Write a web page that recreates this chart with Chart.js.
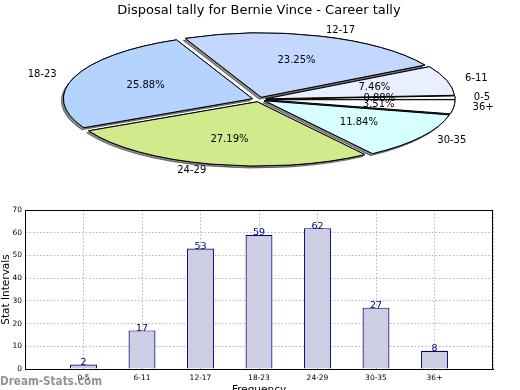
<!DOCTYPE html>
<html>
<head>
<meta charset="utf-8">
<script src="https://cdn.jsdelivr.net/npm/chart.js@4"></script>
<style>
  html, body { margin: 0; padding: 0; background: #fff; width: 520px; height: 390px; overflow: hidden; }
  #pie { position: absolute; left: 0; top: 0; }
  #bar { position: absolute; left: 0; top: 200px; }
</style>
</head>
<body>
<canvas id="pie" width="520" height="200"></canvas>
<canvas id="bar" width="520" height="200"></canvas>
<script>
// ---- data ----
const titleText = 'Disposal tally for Bernie Vince - Career tally';
const categories = ['0-5', '6-11', '12-17', '18-23', '24-29', '30-35', '36+'];
const values = [2, 17, 53, 59, 62, 27, 8];
const yTicks = [0, 10, 20, 30, 40, 50, 60, 70];
const pieColors = ['#ffffff', '#e8f0ff', '#c4d8ff', '#b4d4ff', '#d0ea8c', '#d8ffff', '#ffffff'];
const xTitle = 'Frequency';
const yTitle = 'Stat Intervals';
const watermark = 'Dream-Stats.com';

const FONT = "'DejaVu Sans', sans-serif";
const SY = -0.34;        // vertical squash (negative = counter-clockwise)
const R = 189;           // pie radius
const EXPLODE = 7;       // px translation of each slice
const total = values.reduce((a, b) => a + b, 0);

// ---- pie: ellipse + explode plugin ----
function drawExploded(ctx, a) {
  const mid = (a.startAngle + a.endAngle) / 2;
  ctx.save();
  ctx.translate(Math.cos(mid) * EXPLODE, Math.sin(mid) * EXPLODE);
  a.draw(ctx);
  ctx.restore();
}
const ellipsePlugin = {
  id: 'ellipse',
  beforeDatasetsDraw(chart) {
    const ctx = chart.ctx;
    const arcs = chart.getDatasetMeta(0).data;
    const cx = arcs[0].x, cy = arcs[0].y;
    ctx.save();
    ctx.translate(cx, cy);
    ctx.scale(1, SY);
    ctx.translate(-cx, -cy);
    const orig = CanvasRenderingContext2D.prototype.stroke;
    ctx.stroke = function (...a) {
      this.save();
      this.setTransform(1, 0, 0, 1, 0, 0);
      orig.apply(this, a);
      this.restore();
    };
    // shadow pass
    ctx.save();
    ctx.shadowColor = 'rgba(0,0,0,0.45)';
    ctx.shadowOffsetX = -2;
    ctx.shadowOffsetY = 2;
    ctx.shadowBlur = 0;
    arcs.forEach(a => drawExploded(ctx, a));
    ctx.restore();
    // normal pass
    arcs.forEach(a => drawExploded(ctx, a));
    delete ctx.stroke;
    ctx.restore();
  },
  beforeDatasetDraw() { return false; },
  afterDraw(chart) {
    const ctx = chart.ctx;
    const arcs = chart.getDatasetMeta(0).data;
    ctx.save();
    ctx.fillStyle = '#000';
    ctx.font = '10px ' + FONT;
    ctx.textBaseline = 'middle';
    arcs.forEach((a, i) => {
      const mid = (a.startAngle + a.endAngle) / 2;
      const dx = Math.cos(mid), dy = Math.sin(mid);
      const lr = EXPLODE + 1.1 * R;
      ctx.textAlign = dx > 0 ? 'left' : 'right';
      ctx.fillText(categories[i], a.x + lr * dx, a.y + SY * lr * dy);
      const pr = EXPLODE + 0.6 * R;
      ctx.textAlign = 'center';
      ctx.fillText((values[i] / total * 100).toFixed(2) + '%', a.x + pr * dx, a.y + SY * pr * dy);
    });
    ctx.restore();
  }
};

new Chart(document.getElementById('pie'), {
  type: 'pie',
  data: {
    labels: categories,
    datasets: [{
      data: values,
      backgroundColor: pieColors,
      borderColor: '#000',
      borderWidth: 1,
      borderJoinStyle: 'miter',
      offset: 0,
      hoverOffset: 0,
      clip: false
    }]
  },
  options: {
    responsive: false,
    animation: false,
    events: [],
    rotation: 90,
    radius: R,
    layout: { padding: { top: 0, bottom: 19.6, left: 0, right: 2 } },
    plugins: {
      legend: { display: false },
      tooltip: { enabled: false },
      title: {
        display: true,
        text: titleText,
        color: '#000',
        font: { family: FONT, size: 13, weight: 'normal' },
        padding: { top: 3, bottom: 0 }
      }
    }
  },
  plugins: [ellipsePlugin]
});

// ---- bar chart ----
const barExtras = {
  id: 'barExtras',
  afterDatasetsDraw(chart) {
    const ctx = chart.ctx;
    const bars = chart.getDatasetMeta(0).data;
    ctx.save();
    ctx.fillStyle = '#000080';
    ctx.font = '9.5px ' + FONT;
    ctx.textAlign = 'center';
    ctx.textBaseline = 'alphabetic';
    bars.forEach((b, i) => ctx.fillText(String(values[i]), b.x, b.y + 0.5));
    ctx.restore();
  },
  afterDraw(chart) {
    const ctx = chart.ctx;
    const a = chart.chartArea;
    ctx.save();
    ctx.strokeStyle = '#000';
    ctx.lineWidth = 1;
    ctx.strokeRect(Math.round(a.left) + 0.5, Math.round(a.top) + 0.5, Math.round(a.right - a.left) - 1, Math.round(a.bottom - a.top));
    // watermark
    ctx.font = "bold 13px 'DejaVu Sans Condensed', 'DejaVu Sans', sans-serif";
    const w = ctx.measureText(watermark).width;
    ctx.translate(0, 185);
    ctx.scale(102 / w, 1);
    ctx.fillStyle = 'rgba(120,120,120,0.8)';
    ctx.textBaseline = 'alphabetic';
    ctx.textAlign = 'left';
    ctx.fillText(watermark, 0, 0);
    ctx.restore();
  }
};

new Chart(document.getElementById('bar'), {
  type: 'bar',
  data: {
    datasets: [{
      data: categories.map((c, i) => ({ x: i, y: values[i] })),
      backgroundColor: '#cdcde4',
      borderColor: '#000080',
      borderWidth: 1.2,
      barPercentage: 0.46,
      categoryPercentage: 1
    }]
  },
  options: {
    responsive: false,
    animation: false,
    events: [],
    layout: { padding: { top: 10, right: 27, left: 0, bottom: 0 } },
    plugins: { legend: { display: false }, tooltip: { enabled: false } },
    scales: {
      x: {
        type: 'linear',
        min: -1, max: 7,
        offset: false,
        ticks: {
          stepSize: 1, autoSkip: false, maxRotation: 0,
          callback: v => categories[v] !== undefined ? categories[v] : '',
          color: '#000', font: { family: FONT, size: 7.5 }, padding: 5
        },
        grid: { offset: false, color: '#b4b4b4', lineWidth: 1, drawTicks: false },
        border: { display: true, color: '#000', dash: [1.5, 2] },
        title: { display: true, text: xTitle, color: '#000', font: { family: FONT, size: 10.5 }, padding: { top: 0, bottom: 3 } },
        afterFit(s) { s.height = 31; }
      },
      y: {
        min: 0, max: 70,
        afterBuildTicks(s) { s.ticks = yTicks.map(v => ({ value: v })); },
        ticks: { color: '#000', font: { family: FONT, size: 7.5 }, padding: 3 },
        grid: { color: '#b4b4b4', lineWidth: 1, drawTicks: false },
        border: { display: true, color: '#000', dash: [1.5, 2] },
        title: { display: true, text: yTitle, color: '#000', font: { family: FONT, size: 10.5 }, padding: { top: 0, bottom: 0 } },
        afterFit(s) { s.width = 25; }
      }
    }
  },
  plugins: [barExtras]
});
</script>
</body>
</html>
